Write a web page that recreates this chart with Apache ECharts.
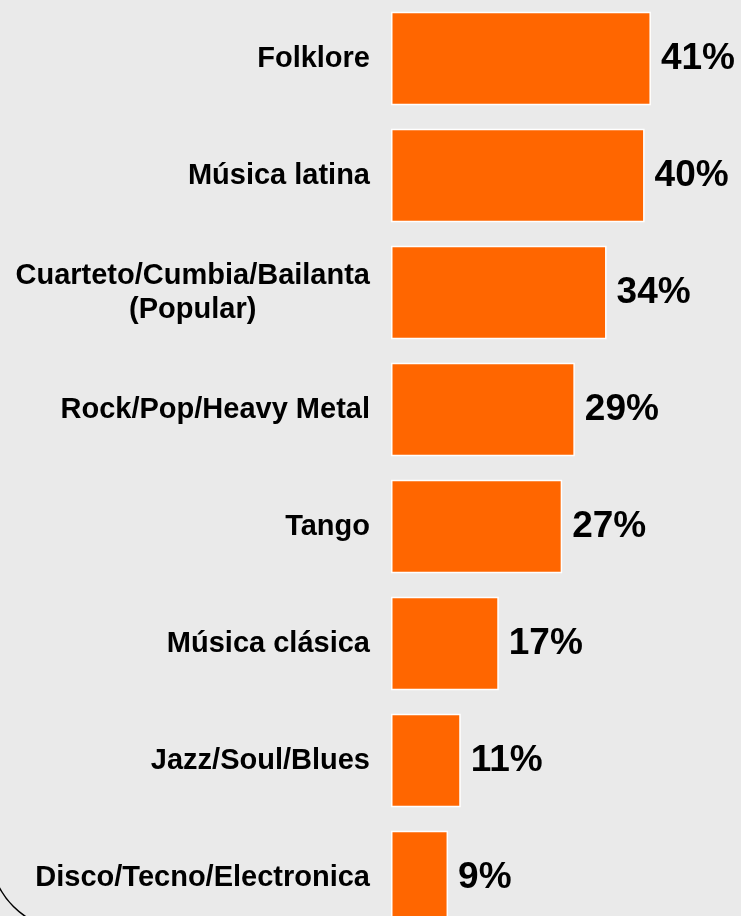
<!DOCTYPE html>
<html>
<head>
<meta charset="utf-8">
<style>
html,body{margin:0;padding:0;background:#eaeaea;}
#chart{width:741px;height:916px;}
</style>
<script src="https://cdn.jsdelivr.net/npm/echarts@6/dist/echarts.min.js"></script>
</head>
<body>
<div id="chart"></div>
<script>
var categories = [
  'Folklore',
  'Música latina',
  'Cuarteto/Cumbia/Bailanta\n(Popular)',
  'Rock/Pop/Heavy Metal',
  'Tango',
  'Música clásica',
  'Jazz/Soul/Blues',
  'Disco/Tecno/Electronica'
];
var values = [41, 40, 34, 29, 27, 17, 11, 9];

var chart = echarts.init(document.getElementById('chart'), null, {renderer: 'canvas'});
var font = "'Liberation Sans', Arial, sans-serif";
chart.setOption({
  backgroundColor: '#eaeaea',
  animation: false,
  graphic: [{
    type: 'rect',
    shape: {x: -10, y: -200, width: 900, height: 1130, r: 80},
    style: {fill: 'none', stroke: '#000', lineWidth: 1.5},
    silent: true,
    z: 0
  }],
  grid: {left: 391, width: 317, top: 0, height: 936, containLabel: false, outerBoundsMode: 'none'},
  xAxis: {
    type: 'value', min: 0, max: 50, show: false
  },
  yAxis: {
    type: 'category',
    inverse: true,
    data: categories,
    axisLine: {show: false},
    axisTick: {show: false},
    splitLine: {show: false},
    axisLabel: {
      margin: 21,
      formatter: function (v) {
        return v.split('\n').map(function (s) { return '{c|' + s + '}'; }).join('\n');
      },
      rich: {
        c: {
          align: 'center',
          fontSize: 29,
          fontWeight: 'bold',
          fontFamily: font,
          color: '#000',
          lineHeight: 34
        }
      }
    }
  },
  series: [{
    type: 'bar',
    data: values,
    barCategoryGap: '20%',
    itemStyle: {color: '#ff6600', borderColor: '#ffffff', borderWidth: 1.5},
    label: {
      show: true,
      position: 'right',
      distance: 10,
      formatter: '{c}%',
      fontSize: 37,
      fontWeight: 'bold',
      fontFamily: font,
      color: '#000'
    }
  }]
});
</script>
</body>
</html>
